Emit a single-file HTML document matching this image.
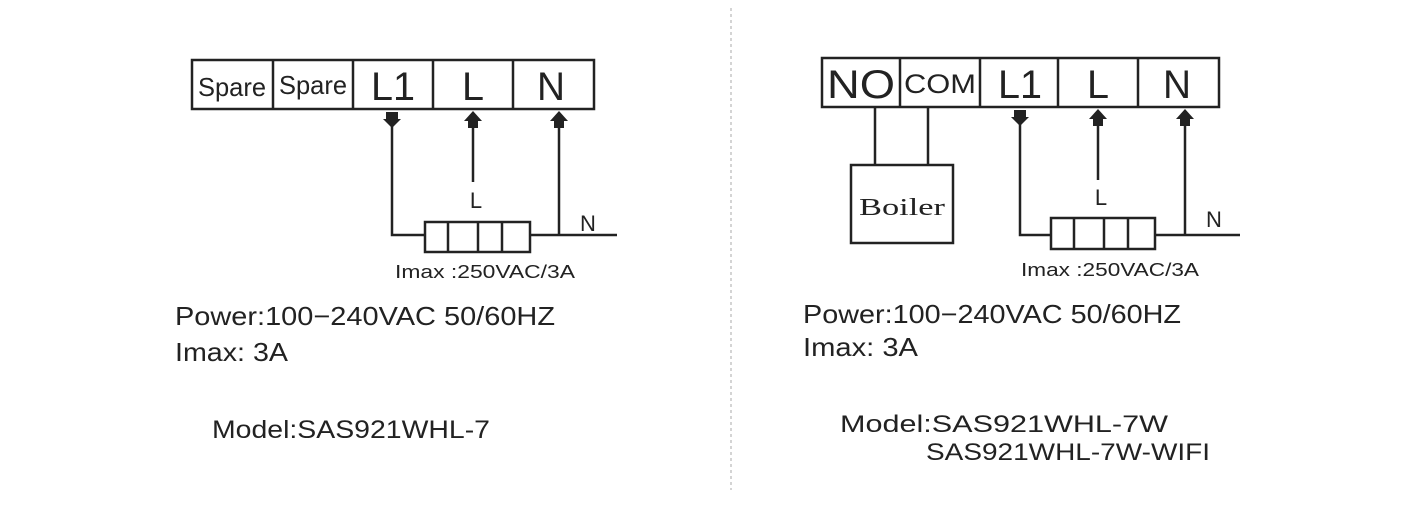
<!DOCTYPE html>
<html><head><meta charset="utf-8"><style>
html,body{margin:0;padding:0;background:#fff;}
svg{display:block;}
text{font-family:"Liberation Sans",Arial,sans-serif;fill:#222;}
</style></head><body>
<svg width="1420" height="526" viewBox="0 0 1420 526" xmlns="http://www.w3.org/2000/svg">
<line x1="731" y1="8" x2="731" y2="490" stroke="#aaa" stroke-width="1" stroke-dasharray="3,3"/>
<g stroke="#222" stroke-width="2.5" fill="none">
<rect x="192" y="60" width="402" height="49"/>
<line x1="273" y1="60" x2="273" y2="109"/>
<line x1="353" y1="60" x2="353" y2="109"/>
<line x1="433" y1="60" x2="433" y2="109"/>
<line x1="513" y1="60" x2="513" y2="109"/>
<polyline points="392,118 392,235 425,235"/>
<line x1="473" y1="118" x2="473" y2="182"/>
<line x1="559" y1="118" x2="559" y2="235"/>
<line x1="530" y1="235" x2="617" y2="235"/>
<rect x="425" y="222" width="105" height="30"/>
<line x1="448" y1="222" x2="448" y2="252"/>
<line x1="478" y1="222" x2="478" y2="252"/>
<line x1="502" y1="222" x2="502" y2="252"/>
<rect x="822" y="58" width="397" height="49"/>
<line x1="900" y1="58" x2="900" y2="107"/>
<line x1="980" y1="58" x2="980" y2="107"/>
<line x1="1058" y1="58" x2="1058" y2="107"/>
<line x1="1138" y1="58" x2="1138" y2="107"/>
<line x1="875" y1="107" x2="875" y2="165"/>
<line x1="928" y1="107" x2="928" y2="165"/>
<rect x="851" y="165" width="102" height="78"/>
<polyline points="1020,116 1020,235 1051,235"/>
<line x1="1098" y1="116" x2="1098" y2="180"/>
<line x1="1185" y1="116" x2="1185" y2="235"/>
<line x1="1155" y1="235" x2="1240" y2="235"/>
<rect x="1051" y="218" width="104" height="31"/>
<line x1="1074" y1="218" x2="1074" y2="249"/>
<line x1="1104" y1="218" x2="1104" y2="249"/>
<line x1="1128" y1="218" x2="1128" y2="249"/>
</g>
<g fill="#222">
<polygon points="386,112 398,112 398,119 401,119 392,128 383,119 386,119"/>
<polygon points="473,111 482,121 478,121 478,128 468,128 468,121 464,121"/>
<polygon points="559,111 568,121 564,121 564,128 554,128 554,121 550,121"/>
<polygon points="1014,110 1026,110 1026,117 1029,117 1020,126 1011,117 1014,117"/>
<polygon points="1098,109 1107,119 1103,119 1103,126 1093,126 1093,119 1089,119"/>
<polygon points="1185,109 1194,119 1190,119 1190,126 1180,126 1180,119 1176,119"/>
</g>
<text x="232" y="96" font-size="26" text-anchor="middle" textLength="68" lengthAdjust="spacingAndGlyphs">Spare</text>
<text x="313" y="94" font-size="26" text-anchor="middle" textLength="68" lengthAdjust="spacingAndGlyphs">Spare</text>
<text x="393" y="100" font-size="40" text-anchor="middle" textLength="44" lengthAdjust="spacingAndGlyphs">L1</text>
<text x="473" y="100" font-size="40" text-anchor="middle" textLength="22" lengthAdjust="spacingAndGlyphs">L</text>
<text x="551" y="100" font-size="40" text-anchor="middle" textLength="28" lengthAdjust="spacingAndGlyphs">N</text>
<text x="476" y="208" font-size="22" text-anchor="middle">L</text>
<text x="588" y="231" font-size="22" text-anchor="middle">N</text>
<text x="395" y="278" font-size="18" textLength="180" lengthAdjust="spacingAndGlyphs">Imax :250VAC/3A</text>
<text x="175" y="325" font-size="26" textLength="380" lengthAdjust="spacingAndGlyphs">Power:100−240VAC 50/60HZ</text>
<text x="175" y="361" font-size="26" textLength="113" lengthAdjust="spacingAndGlyphs">Imax: 3A</text>
<text x="212" y="438" font-size="25" textLength="278" lengthAdjust="spacingAndGlyphs">Model:SAS921WHL-7</text>
<text x="861" y="98" font-size="40" text-anchor="middle" textLength="68" lengthAdjust="spacingAndGlyphs">NO</text>
<text x="940" y="93" font-size="27" text-anchor="middle" textLength="72" lengthAdjust="spacingAndGlyphs">COM</text>
<text x="1020" y="98" font-size="40" text-anchor="middle" textLength="44" lengthAdjust="spacingAndGlyphs">L1</text>
<text x="1098" y="98" font-size="40" text-anchor="middle" textLength="22" lengthAdjust="spacingAndGlyphs">L</text>
<text x="1177" y="98" font-size="40" text-anchor="middle" textLength="28" lengthAdjust="spacingAndGlyphs">N</text>
<text x="902" y="215" font-size="24" text-anchor="middle" style="font-family:'Liberation Serif',serif" textLength="86" lengthAdjust="spacingAndGlyphs">Boiler</text>
<text x="1101" y="205" font-size="22" text-anchor="middle">L</text>
<text x="1214" y="227" font-size="22" text-anchor="middle">N</text>
<text x="1021" y="276" font-size="18" textLength="178" lengthAdjust="spacingAndGlyphs">Imax :250VAC/3A</text>
<text x="803" y="323" font-size="26" textLength="378" lengthAdjust="spacingAndGlyphs">Power:100−240VAC 50/60HZ</text>
<text x="803" y="356" font-size="26" textLength="115" lengthAdjust="spacingAndGlyphs">Imax: 3A</text>
<text x="840" y="432" font-size="24" textLength="328" lengthAdjust="spacingAndGlyphs">Model:SAS921WHL-7W</text>
<text x="926" y="460" font-size="24" textLength="284" lengthAdjust="spacingAndGlyphs">SAS921WHL-7W-WIFI</text>
</svg>
</body></html>
